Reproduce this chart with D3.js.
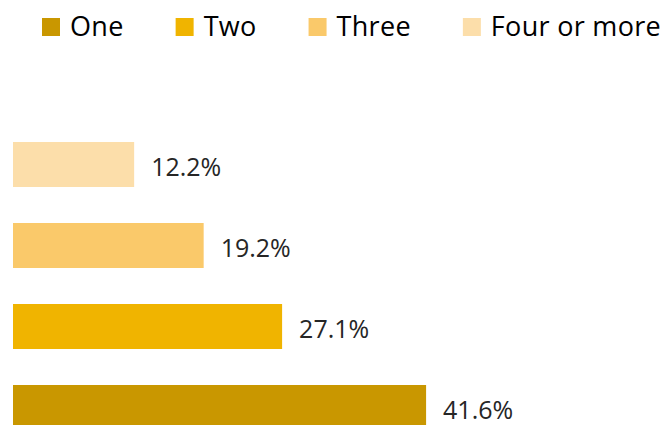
<!DOCTYPE html>
<html>
<head>
<meta charset="utf-8">
<script src="https://cdn.jsdelivr.net/npm/d3@7"></script>
<style>
  body { margin: 0; background: #fff; }
  svg { display: block; }
</style>
</head>
<body>
<div id="chart"></div>
<script>
// Datos
const categorias = ["Four or more", "Three", "Two", "One"];
const valores = [12.2, 19.2, 27.1, 41.6];
const leyenda = ["One", "Two", "Three", "Four or more"];
const colores = {
    "One": "#C99700",
    "Two": "#F0B400",
    "Three": "#FAC96A",
    "Four or more": "#FCDEAA"
};

const width = 662, height = 425;

const svg = d3.select("#chart")
    .append("svg")
    .attr("width", width)
    .attr("height", height);

// Escalas
const x = d3.scaleLinear()
    .domain([0, 50])
    .range([13, 509.5]);

const y = d3.scaleBand()
    .domain(categorias)
    .range([124, 448])
    .paddingInner(36 / 81)
    .paddingOuter(18 / 81);

const datos = categorias.map((c, i) => ({ cat: c, valor: valores[i] }));

// Barras
svg.selectAll(".bar")
    .data(datos)
    .enter().append("rect")
    .attr("class", "bar")
    .attr("x", x(0))
    .attr("y", d => y(d.cat))
    .attr("width", d => x(d.valor) - x(0))
    .attr("height", y.bandwidth())
    .attr("fill", d => colores[d.cat]);

// Etiquetas
svg.selectAll(".label")
    .data(datos)
    .enter().append("text")
    .attr("class", "label")
    .attr("x", d => x(d.valor) + 17)
    .attr("y", d => y(d.cat) + y.bandwidth() / 2 + 11)
    .attr("font-family", "Open Sans")
    .attr("font-size", 25)
    .attr("fill", "#262626")
    .text(d => d.valor.toFixed(1) + "%");

// Leyenda
const legend = svg.append("g");
let lx = 42;
leyenda.forEach(nombre => {
    legend.append("rect")
        .attr("x", lx).attr("y", 18)
        .attr("width", 18).attr("height", 18)
        .attr("fill", colores[nombre]);
    const t = legend.append("text")
        .attr("x", lx + 28).attr("y", 36)
        .attr("font-family", "Open Sans")
        .attr("font-size", 27)
        .attr("letter-spacing", 0.3)
        .attr("fill", "#000")
        .text(nombre);
    lx += 28 + t.node().getComputedTextLength() + 52;
});
</script>
</body>
</html>
